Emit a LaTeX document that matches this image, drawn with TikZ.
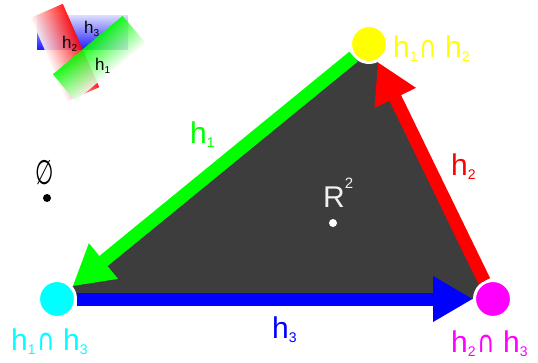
\documentclass[tikz,border=0pt]{standalone}
\usepackage{fontspec}
\usepackage{graphicx}
\setmainfont{Liberation Sans}
\newfontfamily\djv{DejaVu Sans}
\usetikzlibrary{arrows.meta}
\definecolor{tri}{RGB}{61,61,61}
\definecolor{cgreen}{RGB}{0,255,0}
\definecolor{cblue}{RGB}{0,0,255}
\definecolor{cred}{RGB}{255,0,0}
\definecolor{cyel}{RGB}{255,255,0}
\definecolor{ccyan}{RGB}{0,255,255}
\definecolor{cmag}{RGB}{255,0,255}
\newcommand{\hs}[1]{h\raisebox{-4pt}{\fontsize{14}{14}\selectfont #1}}
\newcommand{\ihs}[1]{h\raisebox{-3pt}{\fontsize{10}{10}\selectfont #1}}
\newcommand{\capsym}{\hspace{2pt}\scalebox{0.8}[1]{\djv ∩}\hspace{8pt}}
\pgfdeclarelayer{background}
\pgfsetlayers{background,main}
\begin{document}
\begin{tikzpicture}[x=1pt,y=-1pt,
  edgearrow/.style={line width=13pt, -{Triangle[length=40pt,width=43pt]}},
  vertexdot/.style={circle, minimum size=37pt, inner sep=0pt, draw=white, line width=3pt},
  biglabel/.style={anchor=base west, inner sep=0pt, font=\fontsize{30}{30}\selectfont},
  iconlabel/.style={anchor=base west, inner sep=0pt, font=\fontsize{17}{17}\selectfont},
  halfplane/.style={fill opacity=0.88},
  smalldot/.style={circle, minimum size=8pt, inner sep=0pt}
]
\useasboundingbox (0,0) rectangle (538,362);

% icon
\shade[halfplane, top color=cblue!15, bottom color=cblue] (37,15) rectangle (128,49);
\begin{scope}[transform canvas={shift={(65,52.5)},rotate=23.6}]
\shade[halfplane, left color=cred!4, middle color=cred!75, right color=cred] (-17.5,-45.5) rectangle (17.5,45.5);
\end{scope}
\begin{scope}[transform canvas={shift={(99,58.5)},rotate=40}]
\shade[halfplane, top color=cgreen, middle color=cgreen!75, bottom color=cgreen!4] (-45.5,-17.5) rectangle (45.5,17.5);
\end{scope}
\node[iconlabel] (il3) at (84,33) {\ihs3};
\node[iconlabel] (il2) at (62,48) {\ihs2};
\node[iconlabel] (il1) at (95,70) {\ihs1};

% vertices
\node[vertexdot, fill=cyel] (Y) at (369,44) {};
\node[vertexdot, fill=ccyan] (C) at (57,299) {};
\node[vertexdot, fill=cmag] (M) at (493,299) {};

\begin{pgfonlayer}{background}
\fill[tri] (Y.center) -- (C.center) -- (M.center) -- cycle;
\end{pgfonlayer}

\draw[edgearrow, cgreen] (Y) -- (C);
\draw[edgearrow, cred] (M) -- (Y);
\draw[edgearrow, cblue] (C) -- (M);

% labels
\node[biglabel, text=cgreen] (l1) at (190,143) {\hs1};
\node[biglabel, text=cred] (l2) at (451,175) {\hs2};
\node[biglabel, text=cblue] (l3) at (272,338) {\hs3};
\node[biglabel, text=cyel] (l12) at (393,57) {\hs1\capsym\hs2};
\node[biglabel, text=ccyan] (l13) at (11,350) {\hs1\capsym\hs3};
\node[biglabel, text=cmag] (l23) at (451,352) {\hs2\capsym\hs3};

\node[biglabel, text=white!94!black] (r2) at (323,207) {R\raisebox{19pt}{\fontsize{15}{15}\selectfont 2}};
\node[smalldot, fill=white] (r2dot) at (333,223) {};

\node[inner sep=0pt, font=\djv\fontsize{34}{34}\selectfont] (empty) at (45,173) {\scalebox{0.62}[1]{∅}};
\node[smalldot, fill=black] (emptydot) at (47,198) {};
\end{tikzpicture}
\end{document}
